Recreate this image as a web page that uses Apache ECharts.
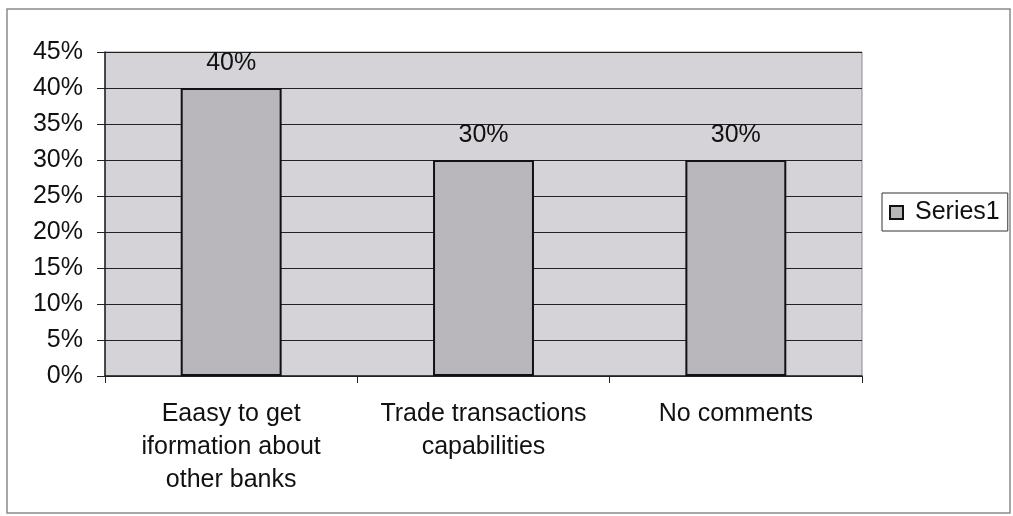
<!DOCTYPE html>
<html>
<head>
<meta charset="utf-8">
<script src="https://cdn.jsdelivr.net/npm/echarts@6/dist/echarts.min.js"></script>
<style>
  html, body { margin: 0; padding: 0; background: #ffffff; }
  #chart { width: 1013px; height: 516px; }
</style>
</head>
<body>
<div id="chart"></div>
<script>
// Survey responses (percent of respondents)
const categories = [
  'Eaasy to get\niformation about\nother banks',
  'Trade transactions\ncapabilities',
  'No comments'
];
const series1 = [40, 30, 30];
const yTicks = { min: 0, max: 45, interval: 5 };

const chart = echarts.init(document.getElementById('chart'));
const font = 'Liberation Sans, Arial, sans-serif';

chart.setOption({
  animation: false,
  backgroundColor: '#ffffff',
  graphic: [{
    type: 'rect',
    shape: { x: 7, y: 9, width: 1003, height: 504 },
    style: { fill: 'none', stroke: '#8a8a8a', lineWidth: 1.5 },
    z: -1
  }],
  grid: {
    left: 105, right: 151, top: 52, bottom: 140,
    show: true,
    backgroundColor: '#d5d3d7',
    borderColor: '#8a8a8a',
    borderWidth: 1
  },
  legend: {
    data: ['Series1'],
    left: 882, top: 193,
    orient: 'vertical',
    itemWidth: 13, itemHeight: 13,
    itemGap: 0,
    padding: [7, 8, 6, 7],
    borderColor: '#333', borderWidth: 1,
    backgroundColor: '#ffffff',
    icon: 'rect',
    itemStyle: { color: '#b9b7bb', borderColor: '#111', borderWidth: 2 },
    textStyle: { fontFamily: font, fontSize: 25, color: '#111', padding: [0, 0, 0, 7] }
  },
  xAxis: {
    type: 'category',
    data: categories,
    axisLine: { lineStyle: { color: '#222', width: 1.5 } },
    axisTick: { show: true, interval: 0, length: 7, lineStyle: { color: '#222' } },
    axisLabel: {
      interval: 0, hideOverlap: false,
      fontFamily: font, fontSize: 25, color: '#111',
      lineHeight: 33, margin: 22
    }
  },
  yAxis: {
    type: 'value',
    min: yTicks.min, max: yTicks.max, interval: yTicks.interval,
    axisLine: { show: true, lineStyle: { color: '#222', width: 1.5 } },
    axisTick: { show: true, length: 8, lineStyle: { color: '#222' } },
    splitLine: { lineStyle: { color: '#222', width: 1.2 } },
    axisLabel: {
      formatter: '{value}%',
      fontFamily: font, fontSize: 25, color: '#111', margin: 22
    }
  },
  series: [{
    name: 'Series1',
    type: 'bar',
    data: series1,
    barWidth: '40%',
    itemStyle: { color: '#b9b7bb', borderColor: '#111', borderWidth: 2 },
    label: {
      show: true, position: 'top', distance: 12,
      formatter: '{c}%',
      fontFamily: font, fontSize: 25, color: '#111'
    }
  }]
});
</script>
</body>
</html>
